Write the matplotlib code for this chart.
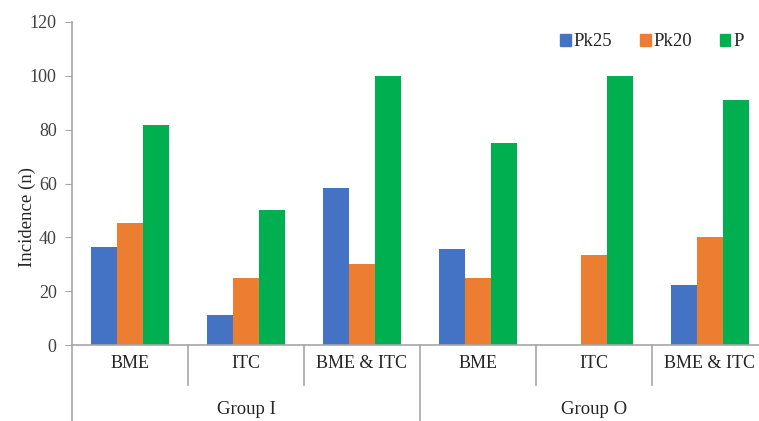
import matplotlib.pyplot as plt
from matplotlib.patches import Patch
import numpy as np

plt.rcParams['font.family'] = ['Liberation Serif', 'DejaVu Serif']

categories = ["BME", "ITC", "BME & ITC", "BME", "ITC", "BME & ITC"]
groups = ["Group I", "Group O"]
series = ["Pk25", "Pk20", "P"]
pk25 = [36.4, 11.1, 58.3, 35.7, 0, 22.2]
pk20 = [45.5, 25.0, 30.0, 25.0, 33.3, 40.0]
p = [81.8, 50.0, 100.0, 75.0, 100.0, 90.9]
colors = ["#4472C4", "#ED7D31", "#00B050"]
axis_grey = "#A6A6A6"
txt = "#262626"

W, H = 759, 421
fig = plt.figure(figsize=(W / 100, H / 100), dpi=100)
ax = fig.add_axes([72 / W, (H - 345) / H, (W - 72) / W, 323 / H])

x = np.arange(len(categories))
bw = 0.225
for i, (vals, c) in enumerate(zip([pk25, pk20, p], colors)):
    ax.bar(x + (i - 1) * bw, vals, bw, color=c, label=series[i])

# category width is ~116 px, the right edge is cut a little short
ax.set_xlim(-0.5, len(categories) - 0.5 - 9 / 116)
ax.set_ylim(0, 120)
ax.set_yticks(range(0, 121, 20))
ax.tick_params(axis='y', direction='out', length=5, color=axis_grey,
               labelsize=13, pad=6, labelcolor="#404040")
ax.set_xticks([])
for s in ['top', 'right']:
    ax.spines[s].set_visible(False)
for s in ['left', 'bottom']:
    ax.spines[s].set_color(axis_grey)
    ax.spines[s].set_linewidth(1.2)

fig.text(27 / W, 1 - 217 / H, "Incidence (n)", rotation=90, ha='center',
         va='center', fontsize=13.5, color=txt)

# category labels and separators below the axis
tr = ax.get_xaxis_transform()
short_y = (345 - 385) / 323
long_y = (345 - 421) / 323
for xi, name in zip(x, categories):
    ax.text(xi, (345 - 364) / 323, name, transform=tr, ha='center', va='center',
            fontsize=13, color=txt)
for b in range(len(categories) + 1):
    xb = b - 0.5
    y0 = long_y if b % 3 == 0 else short_y
    ax.plot([xb, xb], [y0, 0], transform=tr, color=axis_grey, lw=1.2,
            clip_on=False)
for gi, g in enumerate(groups):
    ax.text(gi * 3 + 1, (345 - 410) / 323, g, transform=tr, ha='center',
            va='center', fontsize=13.5, color=txt)

handles = [Patch(color=c, label=s) for c, s in zip(colors, series)]
fig.legend(handles=handles, loc='center', ncol=3, frameon=False,
           bbox_to_anchor=(652 / W, 1 - 42 / H), fontsize=13.5,
           handlelength=0.55, handleheight=0.55, handletextpad=0.15,
           columnspacing=1.5, labelcolor=txt)

fig.savefig("out.png", dpi=100)
